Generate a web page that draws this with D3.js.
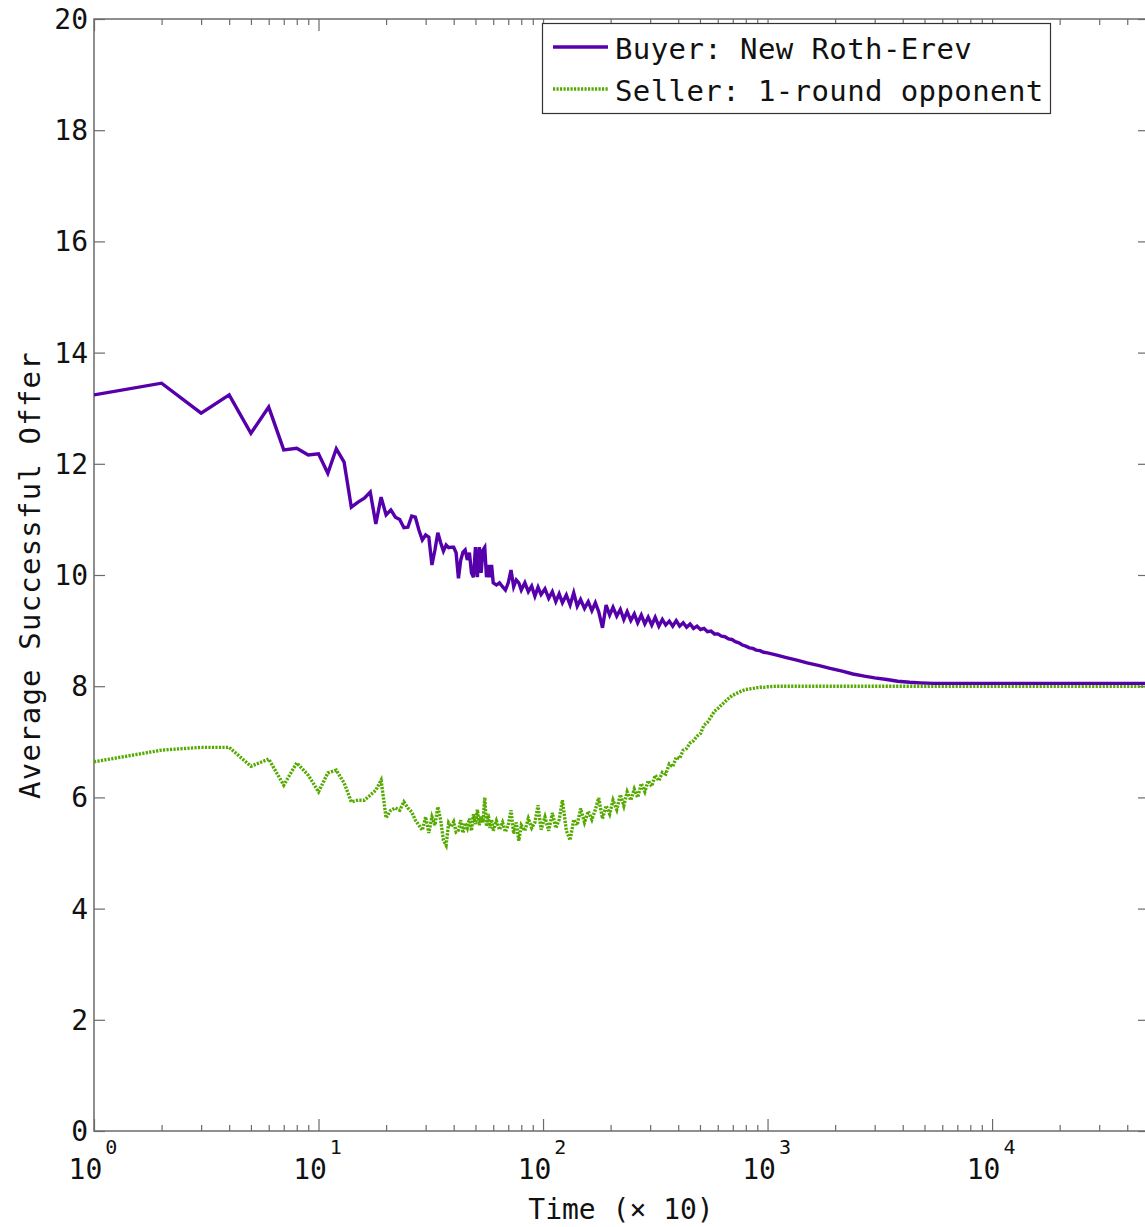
<!DOCTYPE html>
<html>
<head>
<meta charset="utf-8">
<script src="https://cdn.jsdelivr.net/npm/d3@7"></script>
<style>
  body { margin: 0; background: #fff; }
  text { font-family: "DejaVu Sans Mono", monospace; fill: #111; }
</style>
</head>
<body>
<svg id="vis"></svg>
<script>
// DATOS ---------------------------------------------------------------------------
const pasos = [
  1, 2, 3, 4, 5, 6, 7, 8, 9, 10, 11, 12, 13, 14, 15, 16, 17, 18, 19, 20,
  21, 22, 23, 24, 25, 26, 27, 28, 29, 30, 31, 32, 33, 34, 35, 36, 37, 38, 39, 40,
  41, 42, 43, 44, 45, 46, 47, 48, 49, 50, 51, 52, 53, 54, 55, 56, 57, 58, 59, 60,
  62, 64, 66, 68, 70, 72, 74, 76, 78, 80, 83, 86, 89, 92, 95, 98,
  102, 106, 110, 114, 118, 122, 127, 132, 137, 142, 147, 153, 159, 165, 171, 177,
  184, 191, 198, 205, 213, 221, 229, 237, 246, 255, 264, 274, 284, 294, 305, 316,
  328, 340, 352, 365, 378, 392, 406, 421, 436, 452, 468, 485, 503, 521, 540, 560,
  580, 601, 623, 646, 670, 694, 719, 745, 772, 800, 830, 860, 890, 925, 960, 1000,
  1100, 1200, 1350, 1500, 1700, 1900, 2150, 2400, 2700, 3000, 3400, 3800, 4300, 4800,
  5500, 6500, 8000, 10000, 15000, 20000, 30000, 50000
];

const comprador = [
  13.24, 13.45, 12.91, 13.24, 12.55, 13.02, 12.25, 12.28, 12.16, 12.18,
  11.83, 12.27, 12.03, 11.22, 11.31, 11.38, 11.49, 10.92, 11.40, 11.08,
  11.17, 11.04, 11.00, 10.85, 10.86, 11.06, 11.04, 10.81, 10.63, 10.72,
  10.68, 10.18, 10.45, 10.76, 10.58, 10.43, 10.54, 10.49, 10.50, 10.50,
  10.40, 9.94, 10.27, 10.41, 10.45, 10.27, 10.40, 10.04, 9.96, 10.50,
  9.96, 10.50, 10.04, 10.45, 10.50, 9.96, 10.18, 9.96, 10.18, 9.86,
  9.82, 9.86, 9.79, 9.73, 9.86, 10.09, 9.79, 9.91, 9.86, 9.73, 9.86, 9.70, 9.80, 9.62, 9.78, 9.65,
  9.75, 9.58, 9.70, 9.52, 9.66, 9.50, 9.64, 9.46, 9.68, 9.44, 9.56, 9.40, 9.52, 9.36, 9.50, 9.34,
  9.05, 9.46, 9.28, 9.42, 9.26, 9.38, 9.20, 9.34, 9.18, 9.30, 9.14, 9.28, 9.12, 9.24, 9.10, 9.24,
  9.08, 9.20, 9.10, 9.17, 9.08, 9.18, 9.08, 9.14, 9.06, 9.12, 9.04, 9.08, 9.02, 9.04, 8.98, 8.99,
  8.94, 8.94, 8.90, 8.89, 8.85, 8.84, 8.80, 8.78, 8.74, 8.72, 8.69, 8.68, 8.65, 8.64, 8.61, 8.60,
  8.56, 8.52, 8.47, 8.42, 8.37, 8.32, 8.27, 8.22, 8.18, 8.15, 8.12, 8.09, 8.07, 8.06,
  8.05, 8.05, 8.05, 8.05, 8.05, 8.05, 8.05, 8.05
];

const vendedor = [
  6.64, 6.85, 6.90, 6.90, 6.56, 6.69, 6.22, 6.62, 6.40, 6.10,
  6.44, 6.49, 6.26, 5.92, 5.95, 5.95, 6.04, 6.13, 6.31, 5.63,
  5.77, 5.81, 5.77, 5.92, 5.81, 5.74, 5.59, 5.50, 5.41, 5.65,
  5.36, 5.65, 5.50, 5.83, 5.59, 5.23, 5.14, 5.54, 5.47, 5.56,
  5.38, 5.41, 5.59, 5.36, 5.54, 5.45, 5.62, 5.40, 5.70, 5.52,
  5.78, 5.50, 5.66, 5.55, 6.00, 5.48, 5.70, 5.45, 5.60, 5.40,
  5.58, 5.42, 5.55, 5.38, 5.50, 5.77, 5.35, 5.55, 5.22, 5.50, 5.40, 5.62, 5.45, 5.55, 5.86, 5.42,
  5.65, 5.40, 5.72, 5.45, 5.60, 5.95, 5.40, 5.23, 5.60, 5.50, 5.80, 5.55, 5.75, 5.60, 5.78, 5.99,
  5.62, 5.85, 5.70, 5.95, 5.78, 6.05, 5.85, 6.10, 5.95, 6.15, 6.00, 6.25, 6.10, 6.30, 6.20, 6.40,
  6.30, 6.45, 6.42, 6.60, 6.55, 6.72, 6.70, 6.85, 6.88, 6.98, 7.02, 7.10, 7.15, 7.30, 7.35, 7.45,
  7.55, 7.60, 7.66, 7.72, 7.78, 7.83, 7.86, 7.89, 7.92, 7.94, 7.95, 7.96, 7.97, 7.98, 7.98, 7.99,
  8.00, 8.00, 8.00, 8.00, 8.00, 8.00, 8.00, 8.00, 8.00, 8.00, 8.00, 8.00, 8.00, 8.00,
  8.00, 8.00, 8.00, 8.00, 8.00, 8.00, 8.00, 8.00
];

const ticksY = [0, 2, 4, 6, 8, 10, 12, 14, 16, 18, 20];
const exponentesX = [0, 1, 2, 3, 4];
const series = [
  { nombre: "Buyer: New Roth-Erev", valores: comprador, color: "#5500aa", dash: null },
  { nombre: "Seller: 1-round opponent", valores: vendedor, color: "#55aa00", dash: "2.2,1.3" },
];

// CONSTANTES ----------------------------------------------------------------------
const WIDTH = 1145;
const HEIGHT = 1227;
const MARGIN = { top: 19, left: 94, bottom: 96, right: -4 };
const X0 = MARGIN.left;
const X1 = WIDTH - MARGIN.right;
const Y0 = HEIGHT - MARGIN.bottom;
const Y1 = MARGIN.top;
const GRIS = "#6b6b6b";

const svg = d3.select("#vis").attr("width", WIDTH).attr("height", HEIGHT);

const escalaX = d3.scaleLog().domain([1, 50000]).range([X0, X1]);
const escalaY = d3.scaleLinear().domain([0, 20]).range([Y0, Y1]);

// ticks menores en x
const menores = [];
exponentesX.forEach((e) => {
  for (let k = 2; k <= 9; k++) {
    const v = k * Math.pow(10, e);
    if (v <= 50000) menores.push(v);
  }
});
const mayores = exponentesX.map((e) => Math.pow(10, e));

function estiloEje(g) {
  g.select(".domain").remove();
  g.selectAll("line").attr("stroke", GRIS).attr("stroke-width", 1.2);
  g.selectAll("text").remove();
}

// EJES ----------------------------------------------------------------------------
svg.append("g").attr("transform", `translate(0,${Y0})`)
  .call(d3.axisBottom(escalaX).tickValues(mayores).tickSize(-12)).call(estiloEje);
svg.append("g").attr("transform", `translate(0,${Y0})`)
  .call(d3.axisBottom(escalaX).tickValues(menores).tickSize(-6)).call(estiloEje);
svg.append("g").attr("transform", `translate(0,${Y1})`)
  .call(d3.axisTop(escalaX).tickValues(mayores).tickSize(-12)).call(estiloEje);
svg.append("g").attr("transform", `translate(0,${Y1})`)
  .call(d3.axisTop(escalaX).tickValues(menores).tickSize(-6)).call(estiloEje);
svg.append("g").attr("transform", `translate(${X0},0)`)
  .call(d3.axisLeft(escalaY).tickValues(ticksY).tickSize(-11)).call(estiloEje);
svg.append("g").attr("transform", `translate(${X1},0)`)
  .call(d3.axisRight(escalaY).tickValues(ticksY).tickSize(-11)).call(estiloEje);

// marco
svg.append("rect")
  .attr("x", X0).attr("y", Y1)
  .attr("width", X1 - X0).attr("height", Y0 - Y1)
  .attr("fill", "none").attr("stroke", GRIS).attr("stroke-width", 1.5);

// etiquetas y
svg.append("g").selectAll("text").data(ticksY).join("text")
  .attr("x", X0 - 6)
  .attr("y", (d) => escalaY(d) + 10)
  .attr("text-anchor", "end")
  .style("font-size", "28px")
  .text((d) => d);

// etiquetas x con superindice
const etiquetasX = svg.append("g").selectAll("text").data(exponentesX).join("text")
  .attr("x", (d) => escalaX(Math.pow(10, d)) - 1)
  .attr("y", Y0 + 48)
  .attr("text-anchor", "middle")
  .style("font-size", "28px");
etiquetasX.append("tspan").text("10");
etiquetasX.append("tspan")
  .attr("dy", -25).attr("dx", 3)
  .style("font-size", "20px")
  .text((d) => d);

// titulos de ejes
svg.append("text")
  .attr("x", 621).attr("y", 1219)
  .attr("text-anchor", "middle")
  .style("font-size", "28px")
  .text("Time (\u00d7 10)");
svg.append("text")
  .attr("transform", "translate(40,575) rotate(-90)")
  .attr("text-anchor", "middle")
  .style("font-size", "29px")
  .style("letter-spacing", "1.2px")
  .text("Average Successful Offer");

// LINEAS --------------------------------------------------------------------------
svg.append("clipPath").attr("id", "area")
  .append("rect").attr("x", X0).attr("y", Y1).attr("width", X1 - X0).attr("height", Y0 - Y1);

const linea = d3.line()
  .x((d) => escalaX(d[0]))
  .y((d) => escalaY(d[1]));

const grupoLineas = svg.append("g").attr("clip-path", "url(#area)");
series.slice().reverse().forEach((s) => {
  grupoLineas.append("path")
    .datum(pasos.map((t, i) => [t, s.valores[i]]))
    .attr("d", linea)
    .attr("fill", "none")
    .attr("stroke", s.color)
    .attr("stroke-width", 3.4)
    .attr("stroke-linejoin", "miter")
    .attr("stroke-dasharray", s.dash);
});

// LEYENDA -------------------------------------------------------------------------
const leyenda = svg.append("g");
leyenda.append("rect")
  .attr("x", 542.5).attr("y", 23.5)
  .attr("width", 508).attr("height", 90)
  .attr("fill", "#fff").attr("stroke", "#333").attr("stroke-width", 1.2);
series.forEach((s, i) => {
  const y = 47 + i * 42;
  leyenda.append("line")
    .attr("x1", 553).attr("x2", 608).attr("y1", y).attr("y2", y)
    .attr("stroke", s.color).attr("stroke-width", 3.4)
    .attr("stroke-dasharray", s.dash);
  leyenda.append("text")
    .attr("x", 615).attr("y", y + 12)
    .style("font-size", "29px")
    .style("letter-spacing", "0.4px")
    .text(s.nombre);
});
</script>
</body>
</html>
